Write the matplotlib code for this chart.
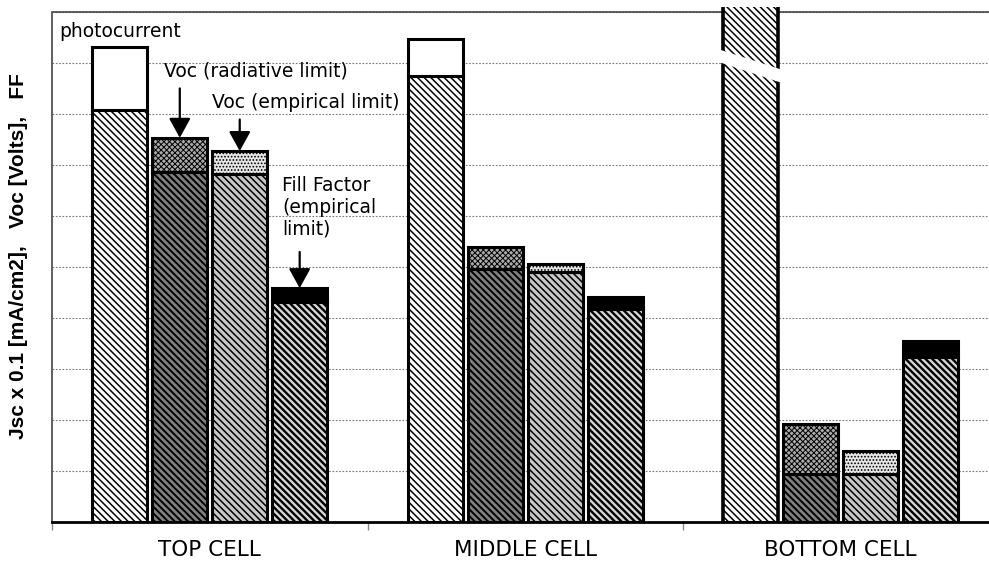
import matplotlib
matplotlib.use("Agg")
import matplotlib.pyplot as plt
from matplotlib.patches import Polygon
import numpy as np

# values (axis units 0..10, no tick labels shown)
cells = ['TOP CELL', 'MIDDLE CELL', 'BOTTOM CELL']
photocurrent = [9.31, 9.47, 10.1]
jsc = [8.08, 8.75, 10.1]
voc_rad = [7.53, 5.39, 1.91]
voc_rad_low = [6.86, 4.95, 0.93]
voc_emp = [7.27, 5.05, 1.38]
voc_emp_low = [6.83, 4.90, 0.93]
ff = [4.58, 4.41, 3.55]
ff_low = [4.30, 4.17, 3.23]

# axis break drawn on the bottom-cell photocurrent bar (left edge, right edge)
break_left = (9.01, 9.26)
break_right = (8.61, 8.87)

plt.rcParams['font.family'] = 'DejaVu Sans'

fig = plt.figure(figsize=(9.89, 5.63), dpi=100)
ax = fig.add_axes([0.0526, 0.0737, 0.9474, 0.905])

x = np.arange(len(cells))
w = 0.175
step = 0.19
pos = [x - 1.5 * step, x - 0.5 * step, x + 0.5 * step, x + 1.5 * step]
edge = dict(edgecolor='black', linewidth=2.2, zorder=3)
diag = '\\' * 5


def hbar(xs, h, bottom=0, hlw=1.0, **kw):
    # hatch linewidth is picked up when the patch is created
    plt.rcParams['hatch.linewidth'] = hlw
    return ax.bar(xs, h, w, bottom=bottom, **kw)


# photocurrent bars (first two complete, third one broken)
hbar(pos[0][:2], jsc[:2], hlw=1.1, facecolor='white', hatch=diag, **edge)
hbar(pos[0][:2], np.subtract(photocurrent, jsc)[:2], bottom=jsc[:2],
     facecolor='white', **edge)
hbar(pos[0][2], jsc[2], hlw=1.1, facecolor='white', hatch=diag,
     edgecolor='black', linewidth=0, zorder=3, clip_on=False)
xl, xr = pos[0][2] - w / 2, pos[0][2] + w / 2
ax.vlines([xl, xr], 0, jsc[2], color='black', lw=2.6, zorder=4, clip_on=False)
ax.hlines(0, xl, xr, color='black', lw=2.2, zorder=4)
pad = 0.01
ax.add_patch(Polygon([(xl - pad, break_left[0]), (xl - pad, break_left[1]),
                      (xr + pad, break_right[1]), (xr + pad, break_right[0])],
                     closed=True, facecolor='white', edgecolor='none',
                     zorder=5))

# Voc radiative limit
hbar(pos[1], voc_rad_low, hlw=1.4, facecolor='#808080', hatch=diag, **edge)
hbar(pos[1], np.subtract(voc_rad, voc_rad_low), bottom=voc_rad_low,
     hlw=0.7, facecolor='#aaaaaa', hatch='xxxxxx', **edge)

# Voc empirical limit
hbar(pos[2], voc_emp_low, hlw=1.1, facecolor='#c8c8c8', hatch=diag, **edge)
hbar(pos[2], np.subtract(voc_emp, voc_emp_low), bottom=voc_emp_low,
     hlw=0.8, facecolor='#e6e6e6', hatch='.....', **edge)

# Fill factor
hbar(pos[3], ff_low, hlw=1.7, facecolor='#d8d8d8', hatch=diag, **edge)
hbar(pos[3], np.subtract(ff, ff_low), bottom=ff_low,
     facecolor='black', **edge)

# labels and arrows
fs = 13.5
ax.text(-0.478, 9.61, 'photocurrent', fontsize=fs, va='center', ha='left')
ax.text(-0.145, 8.84, 'Voc (radiative limit)', fontsize=fs, va='center',
        ha='left')
ax.text(0.007, 8.22, 'Voc (empirical limit)', fontsize=fs, va='center',
        ha='left')
ax.text(0.229, 6.17, 'Fill Factor\n(empirical\nlimit)', fontsize=fs,
        va='center', ha='left', linespacing=1.2)

arrow = dict(arrowstyle='-|>,head_length=1.0,head_width=0.55',
             mutation_scale=12, lw=1.6, color='black', shrinkA=0, shrinkB=0)
ax.annotate('', xy=(pos[1][0], voc_rad[0]), xytext=(pos[1][0], voc_rad[0] + 0.97),
            arrowprops=arrow, zorder=6)
ax.annotate('', xy=(pos[2][0], voc_emp[0]), xytext=(pos[2][0], voc_emp[0] + 0.62),
            arrowprops=arrow, zorder=6)
ax.annotate('', xy=(pos[3][0], ff[0]), xytext=(pos[3][0], ff[0] + 0.71),
            arrowprops=arrow, zorder=6)

# axes styling
ax.set_xlim(-0.5, 2.47)
ax.set_ylim(0, 10)
ax.set_yticks(range(0, 11))
ax.tick_params(axis='y', length=0, labelleft=False)
ax.yaxis.grid(True, linestyle=(0, (1.5, 1.5)), color='#777777', lw=0.8)
ax.set_axisbelow(True)

ax.set_xticks(x, cells)
ax.tick_params(axis='x', which='major', length=0, pad=13, labelsize=15.5)
ax.set_xticks([-0.5, 0.5, 1.5], minor=True)
ax.tick_params(axis='x', which='minor', length=6, color='#888888', width=1)

for side in ['top', 'left']:
    ax.spines[side].set_linestyle((0, (1, 1)))
    ax.spines[side].set_color('#444444')
    ax.spines[side].set_linewidth(1.2)
ax.spines['bottom'].set_linestyle((0, (1, 1)))
ax.spines['bottom'].set_linewidth(2.0)
ax.spines['right'].set_visible(False)

ax.set_ylabel('Jsc x 0.1 [mA/cm2],   Voc [Volts],   FF',
              fontsize=15, fontweight='bold', family='Liberation Sans')
ax.yaxis.set_label_coords(-0.036, 0.52)
ax.yaxis.label.set_va('center')

fig.savefig('out.png', dpi=100)
